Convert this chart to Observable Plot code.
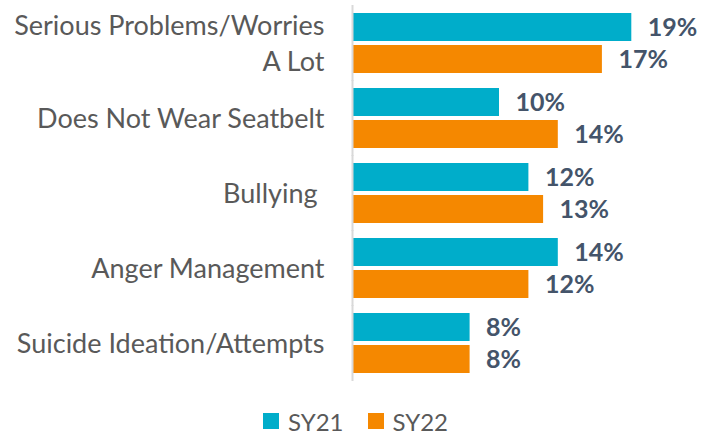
<!DOCTYPE html>
<html>
<head>
<meta charset="utf-8">
<script src="https://cdn.jsdelivr.net/npm/d3@7"></script>
<script src="https://cdn.jsdelivr.net/npm/@observablehq/plot@0.6"></script>
<style>
  body { margin: 0; background: #fff; font-family: Lato, sans-serif; }
  #legend { display: flex; justify-content: center; align-items: center; padding-top: 24px; height: 24px; font-size: 24px; color: #595959; padding-right: 4px; }
  .item { display: flex; align-items: center; }
  .sw { width: 16px; height: 16px; margin-right: 9px; }
  .item + .item { margin-left: 24px; }
</style>
</head>
<body>
<div id="chart"></div>
<div id="legend"></div>
<script>
const categories = [
  "Serious Problems/Worries\nA Lot",
  "Does Not Wear Seatbelt",
  "Bullying\u00a0",
  "Anger Management",
  "Suicide Ideation/Attempts"
];
const series = ["SY21", "SY22"];
const sy21 = [19, 10, 12, 14, 8];
const sy22 = [17, 14, 13, 12, 8];
const colors = ["#00ADCA", "#F58800"];

const data = [];
categories.forEach((c, i) => {
  data.push({category: c, series: "SY21", value: sy21[i]});
  data.push({category: c, series: "SY22", value: sy22[i]});
});

const plot = Plot.plot({
  width: 715,
  height: 385,
  marginLeft: 352,
  marginRight: 69,
  marginTop: 12,
  marginBottom: 12,
  style: {fontFamily: "Lato, sans-serif", background: "#fff"},
  x: {domain: [0, 20], axis: null},
  y: {domain: series, axis: null, paddingInner: 0.125, paddingOuter: 0},
  fy: {domain: categories, axis: null, paddingInner: 0.2, paddingOuter: 0},
  color: {domain: series, range: colors},
  marks: [
    Plot.barX(data, {x: "value", y: "series", fy: "category", fill: "series"}),
    Plot.ruleX([0], {stroke: "#D9D9D9", strokeWidth: 2, insetTop: -8, insetBottom: -8}),
    Plot.text(data, {
      x: "value", y: "series", fy: "category",
      text: d => d.value + "%",
      textAnchor: "start", dx: 16,
      fontSize: 25, fontWeight: "bold", fill: "#44546A"
    }),
    Plot.text(categories, {
      fy: d => d, text: d => d,
      frameAnchor: "left", textAnchor: "end", dx: -28, dy: -2,
      fontSize: 27, fill: "#595959", lineHeight: 1.32
    })
  ]
});
document.getElementById("chart").appendChild(plot);

const legend = document.getElementById("legend");
series.forEach((s, i) => {
  const item = document.createElement("div");
  item.className = "item";
  const sw = document.createElement("div");
  sw.className = "sw";
  sw.style.background = colors[i];
  const t = document.createElement("span");
  t.textContent = s;
  item.appendChild(sw);
  item.appendChild(t);
  legend.appendChild(item);
});
</script>
</body>
</html>
